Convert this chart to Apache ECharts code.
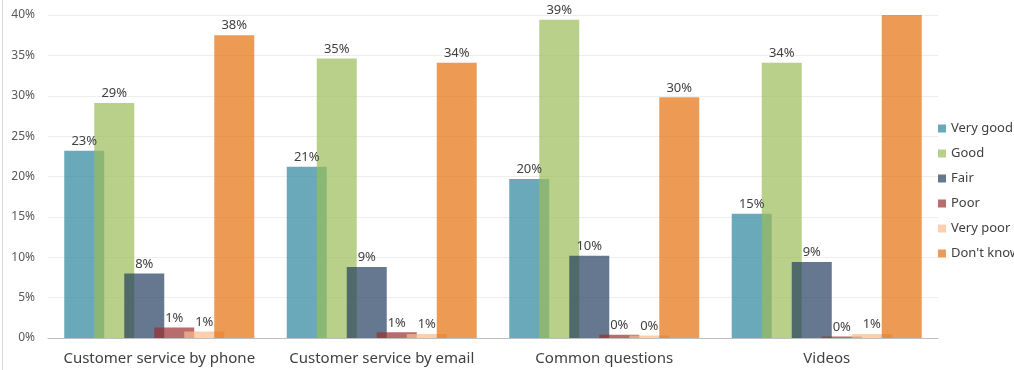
<!DOCTYPE html>
<html>
<head>
<meta charset="utf-8">
<script src="https://cdn.jsdelivr.net/npm/echarts@6/dist/echarts.min.js"></script>
<style>
  html, body { margin: 0; padding: 0; background: #fff; }
  #chart { width: 1014px; height: 370px; }
</style>
</head>
<body>
<div id="chart"></div>
<script>
// Survey ratings per channel (share of respondents, %)
const categories = ['Customer service by phone', 'Customer service by email', 'Common questions', 'Videos'];
const seriesNames = ['Very good', 'Good', 'Fair', 'Poor', 'Very poor', "Don't know"];
const veryGood  = [23.2, 21.2, 19.7, 15.4];
const good      = [29.1, 34.6, 39.4, 34.1];
const fair      = [8.0, 8.8, 10.2, 9.4];
const poor      = [1.3, 0.7, 0.4, 0.2];
const veryPoor  = [0.8, 0.5, 0.3, 0.5];
const dontKnow  = [37.5, 34.1, 29.8, 41.0];
const yTicks    = [0, 5, 10, 15, 20, 25, 30, 35, 40];

const baseColors = ['#2a849c', '#9bbc59', '#243e5f', '#9a2d30', '#fbbc8b', '#e46f0c'];
// translucent fills so overlapping bars blend
const colors = baseColors.map(c => echarts.color.modifyAlpha(c, 0.7));
const values = [veryGood, good, fair, poor, veryPoor, dontKnow];
const yMax = yTicks[yTicks.length - 1];

const FONT = '"Noto Sans", sans-serif';

const series = seriesNames.map((name, i) => ({
  name,
  type: 'bar',
  barWidth: 40,
  barGap: '-25%',
  itemStyle: { color: colors[i] },
  label: {
    show: true,
    position: 'top',
    distance: 3,
    fontFamily: FONT,
    fontSize: 13,
    color: '#404040',
    formatter: p => Math.round(p.value) + '%'
  },
  // values above the axis maximum are clipped and carry no label
  data: values[i].map(v => v > yMax ? { value: v, label: { show: false } } : v)
}));

const chart = echarts.init(document.getElementById('chart'), null, { renderer: 'canvas' });
chart.setOption({
  animation: false,
  backgroundColor: '#fff',
  textStyle: { fontFamily: FONT },
  grid: { left: 48, right: 76, top: 15, bottom: 32, containLabel: false },
  legend: {
    orient: 'vertical',
    left: 938,
    top: 121,
    padding: 0,
    itemWidth: 8,
    itemHeight: 8,
    itemGap: 10,
    icon: 'rect',
    textStyle: { fontFamily: FONT, fontSize: 13, color: '#404040', lineHeight: 15 },
    data: seriesNames.map((n, i) => ({ name: n, itemStyle: { color: colors[i] } }))
  },
  xAxis: {
    type: 'category',
    data: categories,
    axisLine: { lineStyle: { color: '#bfbfbf', width: 1 } },
    axisTick: { show: false },
    axisLabel: { interval: 0, fontFamily: FONT, fontSize: 15, color: '#404040', margin: 13 }
  },
  yAxis: {
    type: 'value',
    min: yTicks[0],
    max: yMax,
    interval: yTicks[1] - yTicks[0],
    axisLine: { show: false },
    axisTick: { show: false },
    splitLine: { lineStyle: { color: '#eeeeee', width: 1 } },
    axisLabel: { fontFamily: FONT, fontSize: 12, color: '#595959', margin: 13, formatter: v => v + '%' }
  },
  graphic: [{
    type: 'line',
    shape: { x1: 2.5, y1: 0, x2: 2.5, y2: 370 },
    style: { stroke: '#d9d9d9', lineWidth: 1 }
  }],
  series
});
</script>
</body>
</html>
